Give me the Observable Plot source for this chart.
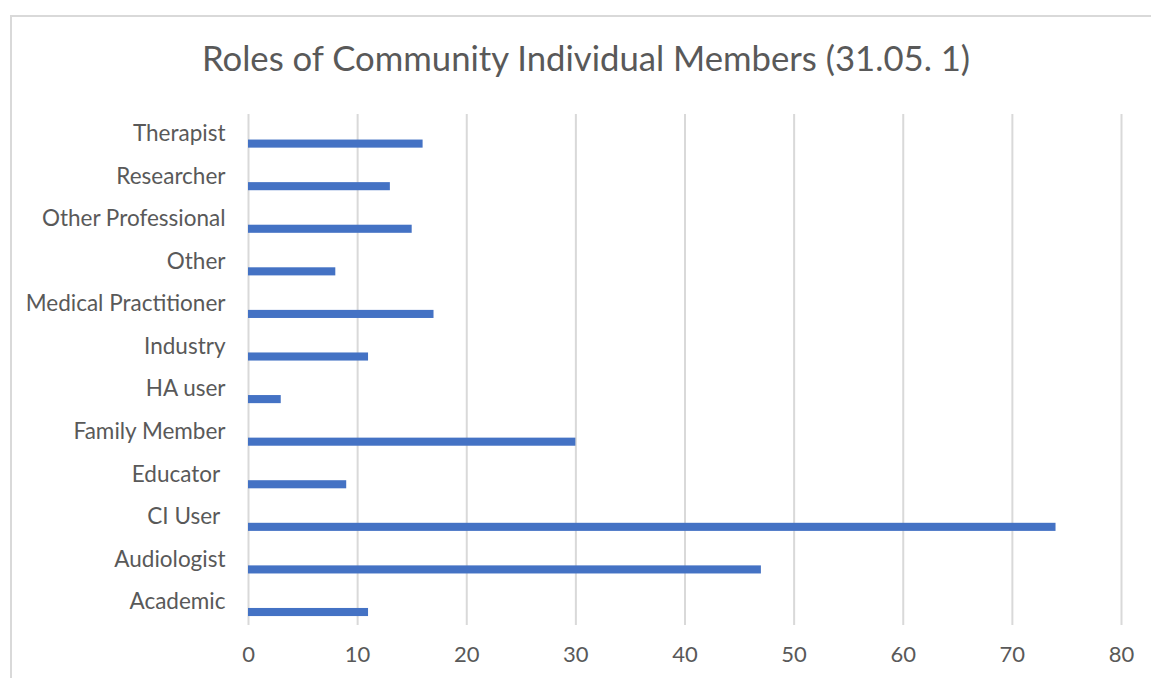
<!DOCTYPE html>
<html>
<head>
<meta charset="utf-8">
<script src="https://cdn.jsdelivr.net/npm/d3@7"></script>
<script src="https://cdn.jsdelivr.net/npm/@observablehq/plot@0.6"></script>
<style>
  html, body { margin: 0; padding: 0; background: #fff; }
  #wrap { position: relative; width: 1151px; height: 678px; overflow: hidden; background: #fff; }
  #border { position: absolute; left: 10px; top: 15px; width: 1300px; height: 800px; border: 2px solid #d9d9d9; box-sizing: border-box; }
  #title { position: absolute; left: 0; width: 1172px; top: 34px; text-align: center; font-family: "Lato", "Liberation Sans", sans-serif; font-size: 34.7px; color: #595959; line-height: 48px; }
  #chart { position: absolute; left: 0; top: 95px; }
  #chart svg { background: none !important; }
  #chart svg text { white-space: pre; }
</style>
</head>
<body>
<div id="wrap">
  <div id="border"></div>
  <div id="title">Roles of Community Individual Members (31.05. 1)</div>
  <div id="chart"></div>
</div>
<script>
const categories = ["Therapist", "Researcher", "Other Professional", "Other", "Medical Practitioner", "Industry", "HA user", "Family Member", "Educator ", "CI User ", "Audiologist", "Academic"];
const counts = [16, 13, 15, 8, 17, 11, 3, 30, 9, 74, 47, 11];
const xTicks = [0, 10, 20, 30, 40, 50, 60, 70, 80];

const data = categories.map((c, i) => ({role: c, count: counts[i]}));

const bandH = (678 - 95 - 19 - 53) / categories.length;

const chart = Plot.plot({
  width: 1151,
  height: 583,
  marginLeft: 248,
  marginRight: 30,
  marginTop: 19,
  marginBottom: 53,
  style: {fontFamily: "Lato, 'Liberation Sans', sans-serif", fontSize: "22.5px", color: "#595959", background: "none"},
  x: {domain: [0, 80], ticks: xTicks, label: null},
  y: {domain: categories, padding: 0, round: false, label: null},
  marks: [
    Plot.ruleX(xTicks, {stroke: "#d9d9d9", strokeWidth: 2}),
    Plot.barX(data, {x: "count", y: "role", fill: "#4472C4", insetTop: bandH * 0.6, insetBottom: bandH * 0.21}),
    Plot.axisX({ticks: xTicks, tickSize: 0, tickPadding: 21, fontSize: 22, fill: "#595959", label: null}),
    Plot.axisY({tickSize: 0, tickPadding: 23, fontSize: 22.5, dy: -2, fill: "#595959", label: null})
  ]
});
document.getElementById("chart").appendChild(chart);
</script>
</body>
</html>
